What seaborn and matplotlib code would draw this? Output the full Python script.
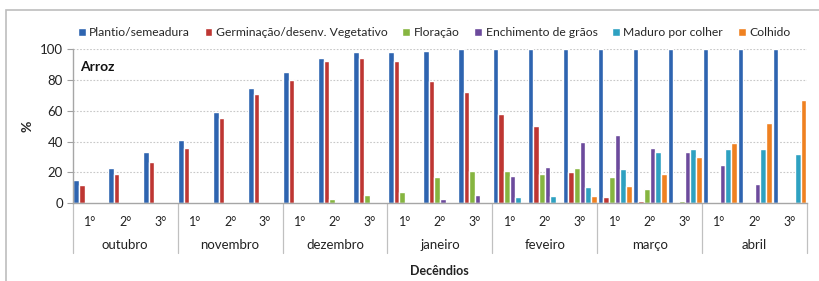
import numpy as np
import pandas as pd
import matplotlib
matplotlib.use("Agg")
import matplotlib.pyplot as plt
import matplotlib.transforms as mtransforms
from matplotlib.patches import Rectangle
import seaborn as sns

months = ["outubro", "novembro", "dezembro", "janeiro", "feveiro", "março", "abril"]
decendios = ["1°", "2°", "3°"]
stages = ["Plantio/semeadura", "Germinação/desenv. Vegetativo", "Floração",
          "Enchimento de grãos", "Maduro por colher", "Colhido"]

plantio = [15, 23, 33, 41, 59, 75, 85, 94, 98, 98, 99, 100, 100, 100, 100, 100, 100, 100, 100, 100, 100]
germinacao = [12, 19, 27, 36, 55, 71, 80, 92, 94, 92, 79, 72, 58, 50, 20, 4, 1.3, 0, 0, 0, 0]
floracao = [0, 0, 0, 0, 0, 0, 0.5, 2.5, 5.5, 7.5, 17, 21, 21, 19, 23, 17, 9, 1.3, 0, 0, 0]
enchimento = [0, 0, 0, 0, 0, 0, 0, 0, 0, 0, 2.5, 5.5, 17.5, 23.5, 40, 44, 36, 33, 25, 12.5, 0]
maduro = [0, 0, 0, 0, 0, 0, 0, 0, 0, 0, 0, 0, 4, 5, 10.5, 22, 33, 35, 35, 35, 32]
colhido = [0, 0, 0, 0, 0, 0, 0, 0, 0, 0, 0, 0, 0, 0, 5, 11, 19, 30, 39, 52, 67]

colors = ["#2E64B0", "#BE3632", "#86B540", "#6C4A9C", "#2EA1C1", "#EF8121"]

series = [plantio, germinacao, floracao, enchimento, maduro, colhido]
cats = [f"{m}|{d}" for m in months for d in decendios]
rows = []
for s, vals in zip(stages, series):
    for c, v in zip(cats, vals):
        rows.append({"cat": c, "stage": s, "val": v})
df = pd.DataFrame(rows)

sns.set_theme(style="white")
plt.rcParams["font.family"] = ["Lato", "DejaVu Sans"]

fig = plt.figure(figsize=(8.19, 2.81), dpi=100)
ax = fig.add_axes([72.7 / 819, 1 - 203.3 / 281, (807 - 72.7) / 819, (203.3 - 49) / 281])

sns.barplot(data=df, x="cat", y="val", hue="stage", order=cats, hue_order=stages,
            palette=colors, width=0.97, gap=0, ax=ax, legend=True, saturation=1)

ax.set_ylim(0, 100)
ax.set_xlim(-0.5, len(cats) - 0.5)
ax.set_yticks([0, 20, 40, 60, 80, 100])
ax.set_yticklabels(["0", "20", "40", "60", "80", "100"], fontsize=9.5, color="#222222")
for yv in [20, 40, 60, 80, 100]:
    ax.axhline(yv, color="#C8C8C8", lw=0.8, ls=(0, (1.5, 1.5)), zorder=0)

ax.set_xticks(range(len(cats)))
ax.set_xticklabels(decendios * len(months), fontsize=9, color="#222222")
ax.tick_params(axis="x", length=0, pad=9)
ax.tick_params(axis="y", length=4, width=0.8, color="#A0A0A0", pad=3, left=True)

for side in ["top", "right"]:
    ax.spines[side].set_visible(False)
for side in ["left", "bottom"]:
    ax.spines[side].set_color("#A6A6A6")
    ax.spines[side].set_linewidth(1.0)

ax.set_xlabel("")
ax.set_ylabel("%", fontsize=10, fontweight="bold", labelpad=5)

trans = mtransforms.blended_transform_factory(ax.transData, ax.transAxes)
for i in range(len(months) + 1):
    ax.plot([i * 3 - 0.5, i * 3 - 0.5], [0, -0.322], transform=trans,
            color="#C0C0C0", lw=0.9, clip_on=False)
for i, m in enumerate(months):
    ax.text(i * 3 + 1, -0.272, m, transform=trans, ha="center", va="center",
            fontsize=9.5, color="#222222")
ax.text(0.5, -0.44, "Decêndios", transform=ax.transAxes, ha="center", va="center",
        fontsize=9, fontweight="bold", color="#222222")
ax.text(0.01, 0.885, "Arroz", transform=ax.transAxes, ha="left", va="center",
        fontsize=10, fontweight="bold", color="#111111")

handles, labels = ax.get_legend_handles_labels()
ax.legend_.remove()
fig.legend(handles, labels, loc="center", bbox_to_anchor=(0.53, 0.883), ncol=6,
           frameon=False, fontsize=8.7, handlelength=0.65, handleheight=0.65,
           handletextpad=0.3, columnspacing=1.2, borderaxespad=0)

fig.patches.append(Rectangle((6 / 819, -0.1), 1.2, 1 - 9.5 / 281 + 0.1,
                             transform=fig.transFigure, fill=False,
                             edgecolor="#BDBDBD", lw=1.2))

fig.savefig("out.png", dpi=100)
